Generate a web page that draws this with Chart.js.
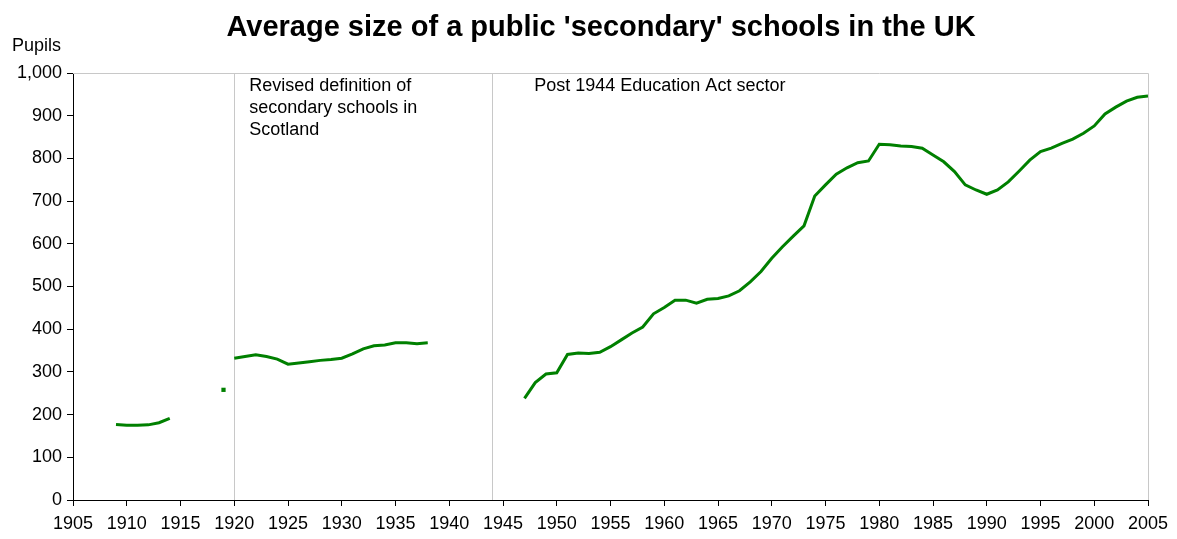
<!DOCTYPE html>
<html>
<head>
<meta charset="utf-8">
<script src="https://cdn.jsdelivr.net/npm/chart.js@4.4.0/dist/chart.umd.min.js"></script>
<style>
  html, body { margin: 0; padding: 0; background: #fff; }
  #wrap { width: 1177px; height: 539px; position: relative; }
</style>
</head>
<body>
<div id="wrap"><canvas id="chart"></canvas></div>
<script>
// pupils per school
const earlyYears = [1909, 1910, 1911, 1912, 1913, 1914];
const earlyPupils = [177, 175, 175, 176, 181, 191];

const loneYears = [1919];
const lonePupils = [258];

const interwarYears = [1920, 1921, 1922, 1923, 1924, 1925, 1926, 1927, 1928, 1929,
  1930, 1931, 1932, 1933, 1934, 1935, 1936, 1937, 1938];
const interwarPupils = [332, 336, 340, 336, 330, 318, 321, 324, 327, 329,
  332, 342, 354, 361, 363, 368, 368, 366, 368];

const postwarYears = [1947, 1948, 1949, 1950, 1951, 1952, 1953, 1954, 1955, 1956,
  1957, 1958, 1959, 1960, 1961, 1962, 1963, 1964, 1965, 1966,
  1967, 1968, 1969, 1970, 1971, 1972, 1973, 1974, 1975, 1976,
  1977, 1978, 1979, 1980, 1981, 1982, 1983, 1984, 1985, 1986,
  1987, 1988, 1989, 1990, 1991, 1992, 1993, 1994, 1995, 1996,
  1997, 1998, 1999, 2000, 2001, 2002, 2003, 2004, 2005];
const postwarPupils = [238, 275, 295, 298, 341, 344, 343, 346, 359, 375,
  391, 405, 436, 451, 468, 468, 461, 470, 472, 478,
  490, 511, 535, 566, 593, 618, 642, 712, 738, 763,
  778, 790, 794, 833, 832, 829, 828, 824, 808, 792,
  769, 738, 726, 716, 726, 745, 770, 796, 816, 824,
  835, 845, 859, 876, 904, 920, 934, 943, 946];

const dividerYears = [1920, 1944];
const dividerNotes = [
  ["Revised definition of", "secondary schools in", "Scotland"],
  ["Post 1944 Education Act sector"]
];

const titleText = "Average size of a public 'secondary' schools in the UK";
const yAxisLabel = "Pupils";

const green = "#008000";
const font = "'Liberation Sans', Arial, sans-serif";

function pairs(xs, ys) {
    return xs.map((x, i) => ({ x: x, y: ys[i] }));
}

const decorations = {
    id: "decorations",
    beforeDatasetsDraw(chart) {
        const ctx = chart.ctx;
        const a = chart.chartArea;
        const xs = chart.scales.x;
        ctx.save();
        ctx.strokeStyle = "#c8c8c8";
        ctx.lineWidth = 1;
        ctx.beginPath();
        ctx.moveTo(a.left, a.top + 0.5);
        ctx.lineTo(a.right + 0.5, a.top + 0.5);
        ctx.lineTo(a.right + 0.5, a.bottom);
        dividerYears.forEach(yr => {
            const px = Math.round(xs.getPixelForValue(yr)) + 0.5;
            ctx.moveTo(px, a.top);
            ctx.lineTo(px, a.bottom);
        });
        ctx.stroke();
        ctx.restore();
    },
    afterDraw(chart) {
        const ctx = chart.ctx;
        const a = chart.chartArea;
        const xs = chart.scales.x;
        ctx.save();
        ctx.fillStyle = "#000";
        ctx.textBaseline = "middle";

        ctx.font = "bold 29px " + font;
        ctx.textAlign = "center";
        ctx.fillText(titleText, 601, 28);

        ctx.font = "18px " + font;
        ctx.textAlign = "left";
        ctx.fillText(yAxisLabel, 12, 46);

        dividerYears.forEach((yr, i) => {
            const px = xs.getPixelForValue(yr);
            const dx = i === 0 ? 15 : 42;
            dividerNotes[i].forEach((line, j) => {
                ctx.fillText(line, px + dx, a.top + 13 + j * 22);
            });
        });
        ctx.restore();
    }
};

new Chart(document.getElementById("chart"), {
    type: "line",
    data: {
        datasets: [
            { data: pairs(earlyYears, earlyPupils) },
            { data: pairs(loneYears, lonePupils), showLine: false,
              pointRadius: 3, pointStyle: "rect", pointBackgroundColor: green, pointBorderWidth: 0 },
            { data: pairs(interwarYears, interwarPupils) },
            { data: pairs(postwarYears, postwarPupils) }
        ].map(d => Object.assign({
            borderColor: green,
            backgroundColor: green,
            borderWidth: 3,
            pointRadius: 0,
            tension: 0
        }, d))
    },
    plugins: [decorations],
    options: {
        responsive: true,
        maintainAspectRatio: false,
        animation: false,
        layout: { padding: { top: 73, right: 29, left: 0, bottom: 0 } },
        plugins: {
            legend: { display: false },
            tooltip: { enabled: false },
            title: { display: false }
        },
        scales: {
            x: {
                type: "linear",
                min: 1905,
                max: 2005,
                ticks: {
                    stepSize: 5,
                    color: "#000",
                    font: { family: font, size: 18 },
                    padding: 7,
                    maxRotation: 0,
                    autoSkip: false,
                    callback: v => String(v)
                },
                grid: { drawOnChartArea: false, drawTicks: true, tickLength: 6, tickColor: "#000" },
                border: { color: "#000", width: 1 },
                afterFit: s => { s.height = 39; }
            },
            y: {
                min: 0,
                max: 1000,
                ticks: {
                    stepSize: 100,
                    color: "#000",
                    font: { family: font, size: 18 },
                    padding: 5,
                    callback: v => v.toLocaleString("en-GB")
                },
                grid: { drawOnChartArea: false, drawTicks: true, tickLength: 6, tickColor: "#000" },
                border: { color: "#000", width: 1 },
                afterFit: s => { s.width = 73; }
            }
        }
    }
});
</script>
</body>
</html>
